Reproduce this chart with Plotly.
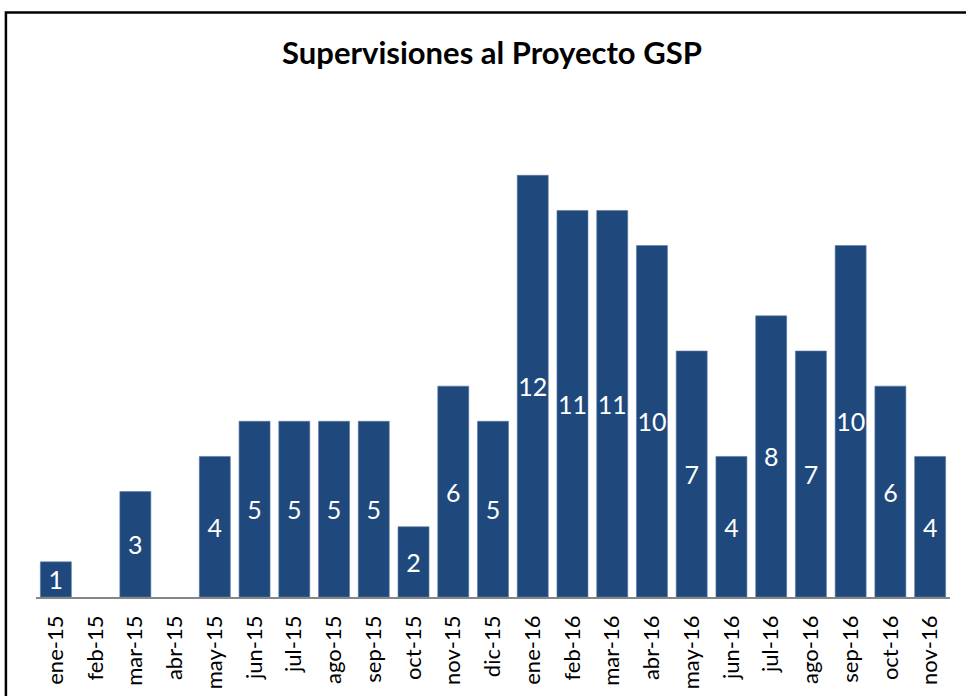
import plotly.graph_objects as go

categories = ["ene-15", "feb-15", "mar-15", "abr-15", "may-15", "jun-15", "jul-15", "ago-15",
              "sep-15", "oct-15", "nov-15", "dic-15", "ene-16", "feb-16", "mar-16", "abr-16",
              "may-16", "jun-16", "jul-16", "ago-16", "sep-16", "oct-16", "nov-16"]
values = [1, 0, 3, 0, 4, 5, 5, 5, 5, 2, 6, 5, 12, 11, 11, 10, 7, 4, 8, 7, 10, 6, 4]
title = "Supervisiones al Proyecto GSP"

labels = [str(v) if v != 0 else "" for v in values]

W, H = 966, 696
L, R, T, B = 35.6, 950.0, 104.6, 597.0

def px(x):
    return (x - L) / (R - L)

def py(y):
    return (B - y) / (B - T)

fig = go.Figure(go.Bar(
    x=categories, y=values, text=labels,
    textposition="inside", insidetextanchor="middle",
    textfont=dict(color="white", size=25, family="Lato"),
    marker=dict(color="#1F497D",
                line=dict(color="#5A7BA6", width=[0.6 if v else 0 for v in values])),
    hoverinfo="skip",
))

fig.update_layout(
    width=W, height=H,
    margin=dict(l=L, r=W - R, t=T, b=H - B, autoexpand=False),
    paper_bgcolor="white", plot_bgcolor="white",
    bargap=0.22,
    showlegend=False,
    uniformtext=dict(mode="show", minsize=25),
    title=dict(text="<b>" + title + "</b>", x=492 / W, xanchor="center",
               y=1 - 53 / H, yanchor="middle",
               font=dict(family="Lato", size=31, color="black")),
    xaxis=dict(showline=True, linecolor="#868686", linewidth=1.5, ticks="",
               tickangle=-90, tickfont=dict(family="Lato", size=22, color="black"),
               showgrid=False, ticklabelstandoff=8, automargin=False),
    yaxis=dict(range=[0, 14], visible=False, showgrid=False, automargin=False),
    shapes=[dict(type="rect", xref="paper", yref="paper",
                 x0=px(5.5), x1=px(990), y0=py(720), y1=py(12),
                 line=dict(color="black", width=2.5), fillcolor="rgba(0,0,0,0)")],
)

fig.write_html("out.html", config={"displayModeBar": False},
               post_script="document.body.style.margin='0';document.body.style.overflow='hidden';")
